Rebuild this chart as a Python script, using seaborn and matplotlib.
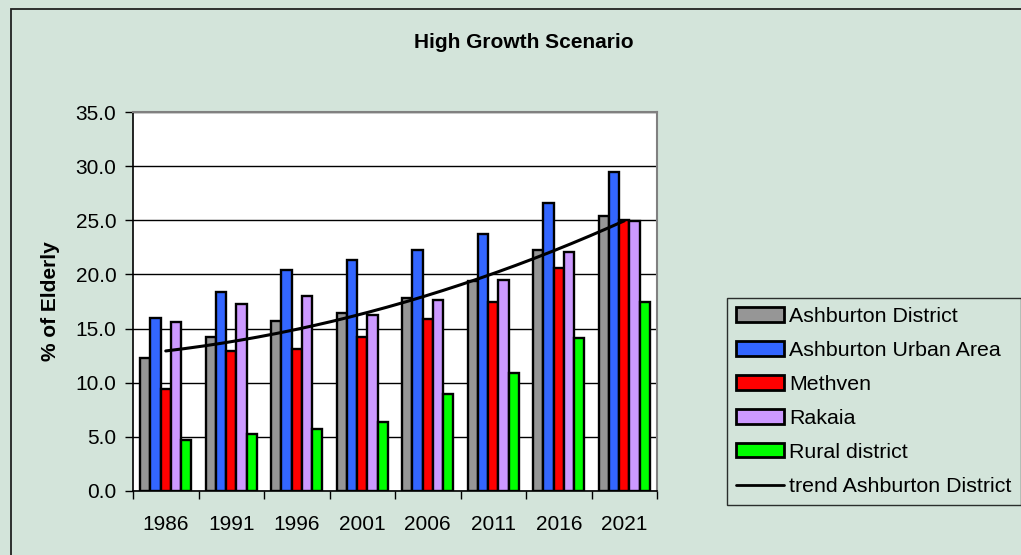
import numpy as np
import pandas as pd
import matplotlib
matplotlib.use("Agg")
import matplotlib.pyplot as plt
import seaborn as sns
from matplotlib.patches import Patch, Rectangle
from matplotlib.lines import Line2D

years = ["1986", "1991", "1996", "2001", "2006", "2011", "2016", "2021"]
ashburton_district = [12.3, 14.25, 15.7, 16.4, 17.8, 19.4, 22.25, 25.4]
ashburton_urban = [16.0, 18.4, 20.4, 21.3, 22.25, 23.7, 26.6, 29.5]
methven = [9.4, 12.9, 13.1, 14.25, 15.85, 17.5, 20.6, 25.0]
rakaia = [15.6, 17.3, 18.0, 16.25, 17.6, 19.5, 22.1, 24.9]
rural = [4.7, 5.3, 5.7, 6.4, 8.95, 10.9, 14.1, 17.5]

series_names = ["Ashburton District", "Ashburton Urban Area", "Methven", "Rakaia", "Rural district"]
series_values = [ashburton_district, ashburton_urban, methven, rakaia, rural]
colors = ["#969696", "#3366FF", "#FF0000", "#CC99FF", "#00FF00"]
trend_label = "trend Ashburton District"

rows = []
for name, vals in zip(series_names, series_values):
    for y, v in zip(years, vals):
        rows.append({"year": y, "series": name, "value": v})
df = pd.DataFrame(rows)

bg = "#D3E4DA"
FS = 15
sns.set_theme(style="white")
plt.rcParams["font.family"] = ["Liberation Sans", "DejaVu Sans"]

fig = plt.figure(figsize=(10.21, 5.55), dpi=100, facecolor=bg)
ax = fig.add_axes([133 / 1021, 1 - 491 / 555, (657 - 133) / 1021, (491 - 112) / 555])
ax.set_facecolor("white")

sns.barplot(data=df, x="year", y="value", hue="series", order=years,
            hue_order=series_names, palette=colors, width=0.78,
            edgecolor="black", linewidth=1.7, saturation=1, ax=ax, legend=False)

# polynomial (order 2) trend of Ashburton District
xs = np.arange(len(years))
coef = np.polyfit(xs, ashburton_district, 2)
xf = np.linspace(0, len(years) - 1, 200)
ax.plot(xf, np.polyval(coef, xf), color="black", lw=2.2, zorder=5)

ax.set_ylim(0, 35)
ax.set_xlim(-0.5, len(years) - 0.5)
ax.set_yticks(np.arange(0, 35.1, 5))
ax.set_yticklabels([f"{v:.1f}" for v in np.arange(0, 35.1, 5)], fontsize=FS, color="black")
ax.yaxis.grid(True, color="black", lw=1)
ax.set_axisbelow(True)
ax.tick_params(axis="y", which="major", direction="out", length=6, width=1, color="black", left=True, pad=6)
ax.set_xticks(xs)
ax.set_xticklabels(years, fontsize=FS, color="black")
ax.tick_params(axis="x", which="major", length=0, pad=17)
ax.set_xticks(np.arange(-0.5, len(years), 1), minor=True)
ax.tick_params(axis="x", which="minor", direction="out", length=6, width=1, color="black", bottom=True)
ax.set_xlabel("")
ax.set_ylabel("")

for s in ["top", "right"]:
    ax.spines[s].set_color("#808080")
    ax.spines[s].set_linewidth(1.5)
for s in ["left", "bottom"]:
    ax.spines[s].set_color("black")
    ax.spines[s].set_linewidth(1.2)

fig.text(51 / 1021, 1 - 301 / 555, "% of Elderly", rotation=90, ha="center", va="center",
         fontsize=FS, fontweight="bold", color="black")
fig.text(524 / 1021, 1 - 42 / 555, "High Growth Scenario", ha="center", va="center",
         fontsize=FS, fontweight="bold", color="black")

handles = [Patch(facecolor=c, edgecolor="black", linewidth=2) for c in colors]
handles.append(Line2D([0], [0], color="black", lw=2))
labels = series_names + [trend_label]
leg = fig.legend(handles, labels, loc="upper left",
                 bbox_to_anchor=(727 / 1021, 1 - 298 / 555), bbox_transform=fig.transFigure,
                 fontsize=15.4, frameon=True, fancybox=False, facecolor=bg, edgecolor="black",
                 handlelength=2.25, handleheight=0.65, handletextpad=0.25, labelspacing=0.7,
                 borderpad=0.42, borderaxespad=0)
leg.get_frame().set_linewidth(1)
for t in leg.get_texts():
    t.set_color("black")

# outer chart frame
fig.patches.append(Rectangle((11 / 1021, -0.05), 1.1, 1 - 9 / 555 + 0.05,
                             transform=fig.transFigure, fill=False, edgecolor="#202020", lw=1.3))

fig.savefig("out.png", dpi=100, facecolor=bg)
